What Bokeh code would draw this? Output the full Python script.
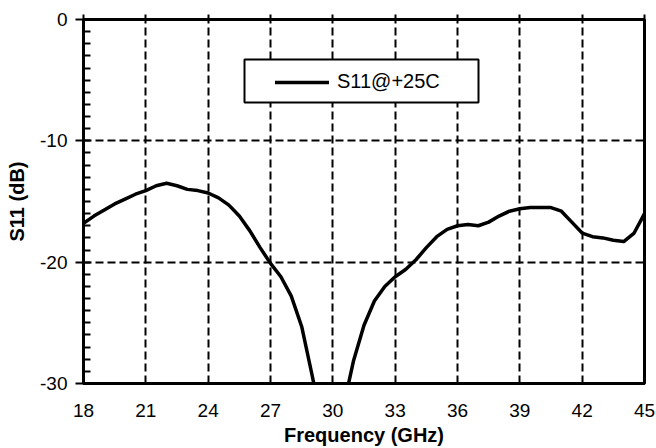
from bokeh.plotting import figure
from bokeh.models import (SingleIntervalTicker, LinearAxis, Legend, LegendItem,
                          BoxAnnotation, Range1d, PrintfTickFormatter)
from bokeh.embed import file_html
from bokeh.resources import INLINE

# ---- data ----
freq_ghz = [18.0, 18.5, 19.0, 19.5, 20.0, 20.5, 21.0, 21.5, 22.0, 22.5,
            23.0, 23.5, 24.0, 24.5, 25.0, 25.5, 26.0, 26.5, 27.0, 27.5,
            28.0, 28.5, 29.0, 29.5, 30.0, 30.5, 31.0, 31.5, 32.0, 32.5,
            33.0, 33.5, 34.0, 34.5, 35.0, 35.5, 36.0, 36.5, 37.0, 37.5,
            38.0, 38.5, 39.0, 39.5, 40.0, 40.5, 41.0, 41.5, 42.0, 42.5,
            43.0, 43.5, 44.0, 44.5, 45.0]
s11_db = [-16.8, -16.2, -15.7, -15.2, -14.8, -14.4, -14.1, -13.7, -13.5, -13.7,
          -14.0, -14.1, -14.3, -14.7, -15.3, -16.2, -17.4, -18.8, -20.1, -21.2,
          -22.8, -25.3, -29.3, -33.5, -38.0, -32.0, -28.1, -25.2, -23.2, -22.0,
          -21.2, -20.6, -19.8, -18.8, -17.9, -17.3, -17.0, -16.9, -17.0, -16.7,
          -16.2, -15.8, -15.6, -15.5, -15.5, -15.5, -15.8, -16.7, -17.6, -17.9,
          -18.0, -18.2, -18.3, -17.6, -16.0]
series_label = "S11@+25C"
x_label = "Frequency (GHz)"
y_label = "S11 (dB)"
x_min, x_max, x_step = 18, 45, 3
y_min, y_max, y_step = -30, 0, 10

FONT = "Liberation Sans"

p = figure(width=656, height=448, output_backend="svg", toolbar_location=None,
           x_range=Range1d(x_min, x_max), y_range=Range1d(y_min, y_max),
           min_border_left=83, min_border_right=12, min_border_top=19,
           min_border_bottom=65)

# frame
p.outline_line_color = "black"
p.outline_line_width = 3
p.background_fill_color = "white"
p.border_fill_color = "white"

xt = SingleIntervalTicker(interval=x_step, num_minor_ticks=0)
yt = SingleIntervalTicker(interval=y_step, num_minor_ticks=10)

# bottom axis
xa = p.xaxis[0]
xa.ticker = xt
xa.axis_line_width = 3
xa.major_tick_out = 0
xa.major_tick_in = 0
xa.minor_tick_out = 0
xa.minor_tick_in = 0
xa.major_label_text_font = FONT
xa.major_label_text_font_size = "19px"
xa.major_label_text_color = "black"
xa.major_label_standoff = 20
xa.axis_label = x_label
xa.axis_label_text_font = FONT
xa.axis_label_text_font_size = "20px"
xa.axis_label_text_font_style = "bold"
xa.axis_label_text_color = "black"
xa.axis_label_standoff = 4

# left axis
ya = p.yaxis[0]
ya.ticker = yt
ya.formatter = PrintfTickFormatter(format="%d")
ya.axis_line_width = 3
ya.major_tick_out = 8
ya.major_tick_in = 0
ya.major_tick_line_width = 2
ya.minor_tick_out = 0
ya.minor_tick_in = 7
ya.minor_tick_line_width = 2
ya.major_label_text_font = FONT
ya.major_label_text_font_size = "19px"
ya.major_label_text_color = "black"
ya.major_label_standoff = 8
ya.axis_label = y_label
ya.axis_label_text_font = FONT
ya.axis_label_text_font_size = "20px"
ya.axis_label_text_font_style = "bold"
ya.axis_label_text_color = "black"
ya.axis_label_standoff = 9

# top axis: only small outward ticks
top = LinearAxis(ticker=xt, axis_line_alpha=0, major_tick_out=5, major_tick_in=0,
                 major_tick_line_width=2, minor_tick_out=0, minor_tick_in=0,
                 major_label_text_font_size="1px", major_label_text_alpha=0,
                 major_label_standoff=0)
p.add_layout(top, "above")

# grid
for g in (p.xgrid[0], p.ygrid[0]):
    g.grid_line_color = "black"
    g.grid_line_width = 2
    g.grid_line_dash = "8 4"
p.xgrid[0].ticker = xt
p.ygrid[0].ticker = SingleIntervalTicker(interval=y_step, num_minor_ticks=0)

r = p.line(freq_ghz, s11_db, line_color="black", line_width=3.5,
           line_join="round", line_cap="round")

# legend frame (white filled, covers grid) and legend
box = BoxAnnotation(left=244, right=478, top=59, bottom=102,
                    left_units="canvas", right_units="canvas",
                    top_units="canvas", bottom_units="canvas",
                    fill_color="white", fill_alpha=1.0,
                    line_color="black", line_alpha=1.0,
                    line_width=2, level="glyph")
p.add_layout(box)

legend = Legend(items=[LegendItem(label=series_label, renderers=[r])],
                location=(192, 290), padding=0, margin=0, spacing=0,
                glyph_width=54, glyph_height=20, label_height=20,
                label_standoff=8, border_line_alpha=0, background_fill_alpha=0,
                label_text_font=FONT, label_text_font_size="20px",
                label_text_color="black", label_text_baseline="middle")
p.add_layout(legend)

open("out.html", "w").write(file_html(p, INLINE))
